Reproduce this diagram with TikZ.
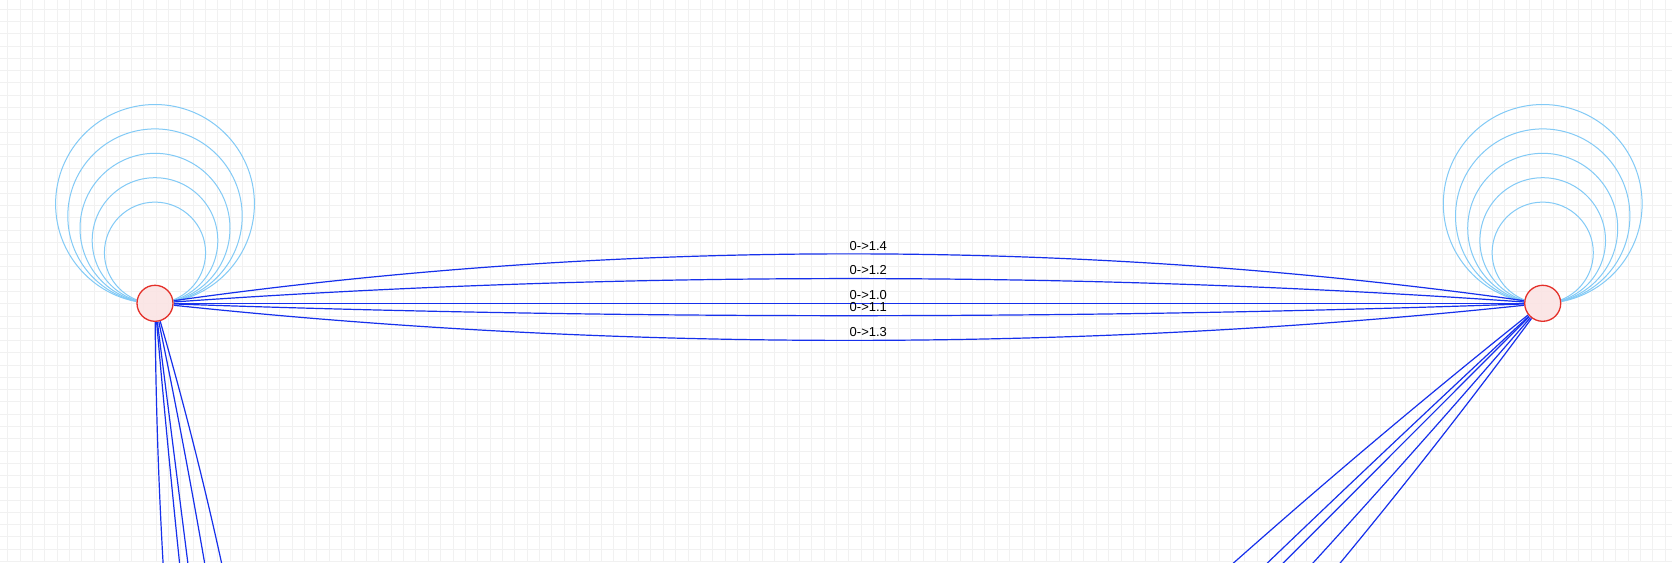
\documentclass[tikz,border=0pt]{standalone}
\usepackage{fontspec}
\setmainfont{Liberation Sans}
\definecolor{gridc}{RGB}{241,241,241}
\definecolor{edgec}{RGB}{22,48,236}
\definecolor{loopc}{RGB}{130,202,246}
\definecolor{nodefill}{RGB}{251,226,226}
\definecolor{nodedraw}{RGB}{228,48,42}
\pgfdeclarelayer{gridlayer}
\pgfdeclarelayer{edgelayer}
\pgfsetlayers{gridlayer,edgelayer,main}
\def\drawgrid{%
  \foreach \i in {0,...,135} \draw[gridline] ({7.7+12.37*\i},0) -- ({7.7+12.37*\i},562);
  \foreach \j in {0,...,45} \draw[gridline] (0,{9.3+12.27*\j}) -- (1672,{9.3+12.27*\j});
}
\begin{document}
\begin{tikzpicture}[x=1pt,y=-1pt,
  gridline/.style={draw=gridc,line width=1pt},
  vertex/.style={circle,minimum size=36pt,inner sep=0pt,draw=nodedraw,line width=1.3pt,fill=nodefill,fill opacity=0.85},
  edge/.style={draw=edgec,line width=1.2pt},
  selfloop/.style={draw=loopc,line width=1pt},
  elabel/.style={font=\fontsize{13}{15}\selectfont,anchor=base west,inner sep=0pt,text=black}]
\useasboundingbox (0,0) rectangle (1672,562);
\begin{pgfonlayer}{gridlayer}
  \fill[white] (0,0) rectangle (1672,562);
  \drawgrid
\end{pgfonlayer}

% node covers (opaque, with grid showing through)
\begin{scope}
  \clip (155,303.3) circle (18.6pt);
  \fill[white] (130,280) rectangle (180,330);
  \drawgrid
\end{scope}
\begin{scope}
  \clip (1542.7,303.3) circle (18.6pt);
  \fill[white] (1510,280) rectangle (1570,330);
  \drawgrid
\end{scope}
\node[vertex] (L) at (155,303.3) {};
\node[vertex] (R) at (1542.7,303.3) {};
\coordinate (T) at (311,1536);

\begin{pgfonlayer}{edgelayer}
  \clip (0,0) rectangle (1672,562);
  % self loops
  \foreach \r in {50.6,62.8,75,87.2,99.4}{
    \draw[selfloop] (L.center) arc[start angle=-90,end angle=270,radius=\r pt];
    \draw[selfloop] (R.center) arc[start angle=-90,end angle=270,radius=\r pt];
  }
  % edges between the two nodes
  \draw[edge] (L) -- (R);
  \draw[edge] (L) .. controls (617.57,319.57) and (1080.13,319.57) .. (R);
  \draw[edge] (L) .. controls (617.57,270.77) and (1080.13,270.77) .. (R);
  \draw[edge] (L) .. controls (617.57,352.1) and (1080.13,352.1) .. (R);
  \draw[edge] (L) .. controls (617.57,238.23) and (1080.13,238.23) .. (R);
  % edges leaving the left node downward
  \draw[edge] (L) -- (T);
  \draw[edge] (L) .. controls (190.86,716.24) and (242.86,1127.14) .. (T);
  \draw[edge] (L) .. controls (239.28,710.12) and (291.28,1121.02) .. (T);
  \draw[edge] (L) .. controls (158.59,720.33) and (210.59,1131.23) .. (T);
  \draw[edge] (L) .. controls (271.55,706.03) and (323.55,1116.93) .. (T);
  % edges leaving the right node downward
  \draw[edge] (R) -- (T);
  \draw[edge] (R) .. controls (1116.76,698.84) and (706.20,1109.74) .. (T);
  \draw[edge] (R) .. controls (1162.88,744.92) and (752.32,1155.82) .. (T);
  \draw[edge] (R) .. controls (1086.01,668.12) and (675.45,1079.02) .. (T);
  \draw[edge] (R) .. controls (1193.62,775.65) and (783.06,1186.55) .. (T);
\end{pgfonlayer}

% edge labels
\node[elabel] (l10) at (849.5,299.3) {0->1.0};
\node[elabel] (l11) at (849.5,311.5) {0->1.1};
\node[elabel] (l12) at (849.5,274.9) {0->1.2};
\node[elabel] (l13) at (849.5,336.4) {0->1.3};
\node[elabel] (l14) at (849.5,250.5) {0->1.4};
\end{tikzpicture}
\end{document}
